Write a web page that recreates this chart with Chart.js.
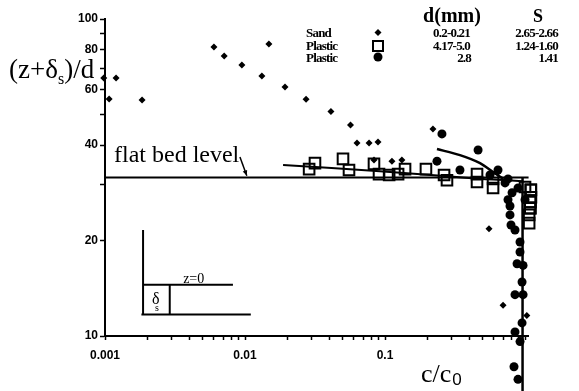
<!DOCTYPE html>
<html lang="en">
<head>
<meta charset="UTF-8">
<title>Concentration profile</title>
<script src="https://cdn.jsdelivr.net/npm/chart.js"></script>
<style>
  body { margin: 0; background: #fff; }
  canvas { display: block; }
</style>
</head>
<body>
<canvas id="profileChart" width="579" height="391"></canvas>
<script>
// measured points, c/c0 vs (z+ds)/d
const sandX = [0.00098, 0.0012, 0.00107, 0.00184, 0.0060, 0.0071, 0.0095, 0.0132, 0.0148, 0.0193, 0.0273, 0.0411, 0.0567, 0.0631, 0.0769, 0.0891, 0.0834, 0.112, 0.132, 0.220, 0.553, 0.697, 1.03];
const sandY = [65.1, 65.1, 55.9, 55.5, 81.6, 76.4, 71.6, 66.1, 83.4, 61.0, 55.8, 51.1, 46.3, 40.6, 40.6, 40.9, 35.9, 35.6, 35.9, 45.0, 21.8, 12.5, 11.6];

const squareX = [0.0287, 0.0316, 0.0501, 0.0553, 0.0834, 0.0906, 0.107, 0.124, 0.139, 0.196, 0.264, 0.277, 0.454, 0.454, 0.591, 0.591, 1.0, 1.10, 1.10, 1.09, 1.09, 1.07, 1.07];
const squareY = [33.6, 35.1, 36.2, 33.4, 34.9, 32.4, 32.2, 32.4, 33.6, 33.6, 32.2, 31.0, 32.4, 30.6, 31.3, 29.3, 29.5, 28.9, 27.4, 26.5, 25.3, 24.1, 22.7];

const circleX = [0.255, 0.462, 0.235, 0.343, 0.641, 0.562, 0.756, 0.720, 0.891, 0.808, 0.756, 1.0, 0.781, 0.781, 0.794, 0.848, 0.921, 0.921, 0.877, 0.968, 0.952, 0.848, 0.968, 0.952, 0.848, 0.921, 0.834, 0.891];
const circleY = [43.4, 38.6, 35.6, 33.4, 33.4, 32.2, 31.3, 30.4, 29.3, 28.3, 26.9, 26.9, 25.7, 24.1, 22.4, 21.6, 19.8, 18.4, 16.9, 16.7, 14.8, 13.5, 13.5, 11.0, 10.3, 9.6, 8.0, 7.3];

// drawn lines
const flatBedX = [0.001, 1.06];
const flatBedY = [31.6, 31.6];
const wallX = [0.96, 0.96];
const wallY = [31.6, 6.7];
const fitSquareX = [0.0187, 0.092, 0.28, 0.5, 0.75, 0.96];
const fitSquareY = [34.6, 33.1, 31.9, 31.3, 31.0, 30.8];
const fitCircleX = [0.235, 0.343, 0.477, 0.591, 0.70];
const fitCircleY = [38.9, 37.2, 35.1, 32.9, 31.3];

// small sketch of the bed, in data units
const sketchLines = [
  { x: [0.00187, 0.00187], y: [21.6, 11.7] },
  { x: [0.00187, 0.0082], y: [14.5, 14.5] },
  { x: [0.00182, 0.011], y: [11.7, 11.7] },
  { x: [0.0029, 0.0029], y: [14.5, 11.7] }
];
const arrowFrom = [0.0092, 36.7];
const arrowTo = [0.0103, 32.0];

// ticks
const xTicks = [0.001, 0.002, 0.003, 0.004, 0.005, 0.006, 0.007, 0.008, 0.009,
  0.01, 0.02, 0.03, 0.04, 0.05, 0.06, 0.07, 0.08, 0.09,
  0.1, 0.2, 0.3, 0.4, 0.5, 0.6, 0.7, 0.8, 0.9, 1];
const xLabels = [0.001, 0.01, 0.1];
const yTicks = [10, 20, 30, 40, 50, 60, 70, 80, 90, 100];
const yLabels = [10, 20, 40, 60, 80, 100];

// legend table
const legendNames = ['Sand', 'Plastic', 'Plastic'];
const legendD = ['0.2-0.21', '4.17-5.0', '2.8'];
const legendS = ['2.65-2.66', '1.24-1.60', '1.41'];

function pts(xs, ys) {
  return xs.map((v, i) => ({ x: v, y: ys[i] }));
}

function lineSet(xs, ys, w) {
  return {
    type: 'line', data: pts(xs, ys), borderColor: '#000', borderWidth: w || 2,
    pointRadius: 0, fill: false, tension: 0.3, clip: false
  };
}

const serif = '"Liberation Serif", "Times New Roman", serif';

const textPlugin = {
  id: 'textPlugin',
  afterDatasetsDraw(chart) {
    const ctx = chart.ctx;
    const xs = chart.scales.x, ys = chart.scales.y;
    const area = chart.chartArea;

    // points lying past the axes (chart.js skips them by default)
    const whole = { left: 0, top: 0, right: chart.width, bottom: chart.height };
    chart.data.datasets.forEach((ds, i) => {
      if (ds.type === 'line') return;
      chart.getDatasetMeta(i).data.forEach(el => {
        if (el.y > area.bottom + 2 || el.x > area.right + 2) el.draw(ctx, whole);
      });
    });

    ctx.save();
    ctx.fillStyle = '#000';
    ctx.strokeStyle = '#000';

    // y title
    ctx.textBaseline = 'alphabetic';
    ctx.textAlign = 'left';
    let px = 9;
    ctx.font = '27px ' + serif;
    ctx.fillText('(z+δ', px, 78);
    px += ctx.measureText('(z+δ').width;
    ctx.font = '16px ' + serif;
    ctx.fillText('s', px, 84);
    px += ctx.measureText('s').width;
    ctx.font = '27px ' + serif;
    ctx.fillText(')/d', px, 78);

    // x title
    ctx.font = '26px ' + serif;
    ctx.fillText('c/c', 421, 382);
    px = 421 + ctx.measureText('c/c').width;
    ctx.font = '17px "Liberation Sans", Arial, sans-serif';
    ctx.fillText('0', px + 1, 385);

    // flat bed label + arrow
    ctx.font = '24px ' + serif;
    ctx.fillText('flat bed level', 114, 162);
    const ax = xs.getPixelForValue(arrowFrom[0]), ay = ys.getPixelForValue(arrowFrom[1]);
    const bx = xs.getPixelForValue(arrowTo[0]), by = ys.getPixelForValue(arrowTo[1]);
    ctx.lineWidth = 1.5;
    ctx.beginPath();
    ctx.moveTo(ax, ay);
    ctx.lineTo(bx, by);
    ctx.stroke();
    const ang = Math.atan2(by - ay, bx - ax);
    ctx.beginPath();
    ctx.moveTo(bx, by);
    ctx.lineTo(bx - 6 * Math.cos(ang - 0.4), by - 6 * Math.sin(ang - 0.4));
    ctx.lineTo(bx - 6 * Math.cos(ang + 0.4), by - 6 * Math.sin(ang + 0.4));
    ctx.closePath();
    ctx.fill();

    // sketch labels
    ctx.font = '14px ' + serif;
    ctx.textAlign = 'center';
    ctx.fillText('z=0', xs.getPixelForValue(0.0043), ys.getPixelForValue(14.7));
    ctx.font = '16px ' + serif;
    ctx.fillText('δ', xs.getPixelForValue(0.0023), ys.getPixelForValue(12.6));
    ctx.font = '10px ' + serif;
    ctx.fillText('s', xs.getPixelForValue(0.00235), ys.getPixelForValue(12.0));

    // legend table
    ctx.font = 'bold 20px ' + serif;
    ctx.fillText('d(mm)', 452, 22);
    ctx.font = 'bold 18px ' + serif;
    ctx.fillText('S', 538, 22);
    const rows = [37, 50, 62];
    ctx.font = 'bold 13px ' + serif;
    ctx.letterSpacing = '-0.8px';
    rows.forEach((ry, i) => {
      ctx.textAlign = 'left';
      ctx.fillText(legendNames[i], 306, ry);
      ctx.textAlign = 'right';
      ctx.fillText(legendD[i], i === 2 ? 471 : 470, ry);
      ctx.fillText(legendS[i], 558, ry);
    });
    ctx.letterSpacing = '0px';
    // legend symbols
    ctx.beginPath();
    ctx.moveTo(378, 29); ctx.lineTo(381.5, 32.5); ctx.lineTo(378, 36); ctx.lineTo(374.5, 32.5);
    ctx.closePath();
    ctx.fill();
    ctx.lineWidth = 2;
    ctx.strokeRect(373, 41, 10, 10);
    ctx.beginPath();
    ctx.arc(378, 57, 4.5, 0, Math.PI * 2);
    ctx.fill();
    ctx.restore();
  }
};

const datasets = [
  lineSet(flatBedX, flatBedY, 2),
  lineSet(wallX, wallY, 2.5),
  lineSet(fitSquareX, fitSquareY, 2),
  lineSet(fitCircleX, fitCircleY, 2.5)
];
sketchLines.forEach(l => datasets.push(lineSet(l.x, l.y, 2)));
datasets.push({
  label: 'Sand', data: pts(sandX, sandY), pointStyle: 'rectRot', pointRadius: 3.5,
  backgroundColor: '#000', borderColor: '#000', borderWidth: 0, clip: false
});
datasets.push({
  label: 'Plastic square', data: pts(squareX, squareY), pointStyle: 'rect', pointRadius: 7.5,
  backgroundColor: 'rgba(0,0,0,0)', borderColor: '#000', borderWidth: 2, clip: false
});
datasets.push({
  label: 'Plastic circle', data: pts(circleX, circleY), pointStyle: 'circle', pointRadius: 4.5,
  backgroundColor: '#000', borderColor: '#000', borderWidth: 0, clip: false
});

const tickFont = { family: '"Liberation Sans", Arial, sans-serif', weight: 'bold', size: 12 };

new Chart(document.getElementById('profileChart').getContext('2d'), {
  type: 'scatter',
  data: { datasets: datasets },
  options: {
    responsive: false,
    animation: false,
    layout: { padding: { top: 19, right: 51, left: 0, bottom: 0 } },
    plugins: { legend: { display: false }, tooltip: { enabled: false } },
    scales: {
      x: {
        type: 'logarithmic', min: 0.001, max: 1.05,
        afterBuildTicks: s => { s.ticks = xTicks.map(v => ({ value: v })); },
        afterFit: s => { s.height = 55; },
        grid: { drawOnChartArea: false, color: '#000', tickLength: 4, tickWidth: 1.5 },
        border: { display: true, color: '#000', width: 2 },
        ticks: {
          autoSkip: false, maxRotation: 0, padding: 8, color: '#000', font: tickFont,
          callback: v => xLabels.includes(v) ? String(v) : ''
        }
      },
      y: {
        type: 'logarithmic', min: 10, max: 100,
        afterBuildTicks: s => { s.ticks = yTicks.map(v => ({ value: v })); },
        afterFit: s => { s.width = 105; },
        grid: { drawOnChartArea: false, color: '#000', tickLength: 5, tickWidth: 1.5 },
        border: { display: true, color: '#000', width: 2 },
        ticks: {
          autoSkip: false, padding: 2, color: '#000', font: tickFont,
          callback: v => yLabels.includes(v) ? String(v) : ''
        }
      }
    }
  },
  plugins: [textPlugin]
});
</script>
</body>
</html>
